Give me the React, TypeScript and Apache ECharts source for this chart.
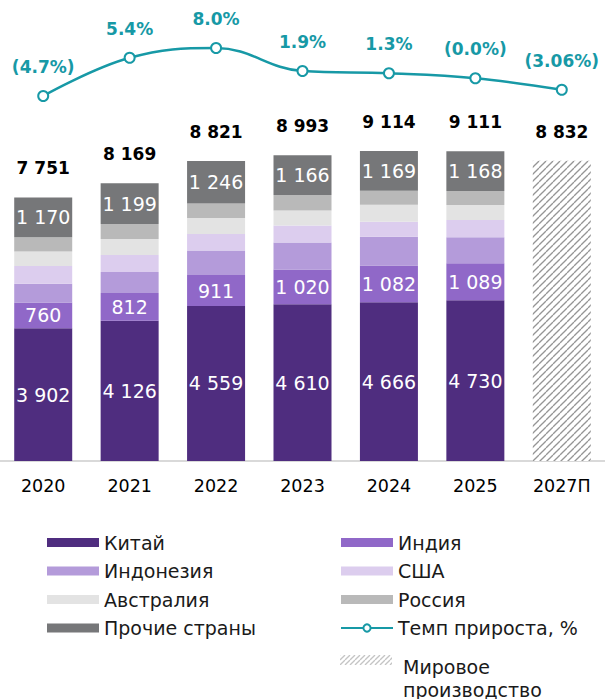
import React, { useEffect, useRef } from "react";
import * as echarts from "echarts";

const years = ["2020", "2021", "2022", "2023", "2024", "2025", "2027П"];
const china = [3902, 4126, 4559, 4610, 4666, 4730, "-"];
const india = [760, 812, 911, 1020, 1082, 1089, "-"];
const indonesia = [550, 620, 720, 800, 847, 760, "-"];
const usa = [520, 500, 490, 500, 440, 510, "-"];
const australia = [430, 470, 470, 440, 500, 444, "-"];
const russia = [419, 442, 425, 457, 410, 410, "-"];
const others = [1170, 1199, 1246, 1166, 1169, 1168, "-"];
const world = ["-", "-", "-", "-", "-", "-", 8832];
const totals = [7751, 8169, 8821, 8993, 9114, 9111, 8832];
const growth = [-4.7, 5.4, 8.0, 1.9, 1.3, 0.0, -3.06];
const growthLabels = ["(4.7%)", "5.4%", "8.0%", "1.9%", "1.3%", "(0.0%)", "(3.06%)"];

const FONT = "DejaVu Sans";
const TEAL = "#1799a6";

const fmt = (v: any) =>
  String(v).replace(/\B(?=(\d{3})+(?!\d))/g, " ");

function makeHatch(size: number, color: string, width: number) {
  const c = document.createElement("canvas");
  c.width = size;
  c.height = size;
  const ctx = c.getContext("2d")!;
  ctx.fillStyle = "#ffffff";
  ctx.fillRect(0, 0, size, size);
  ctx.strokeStyle = color;
  ctx.lineWidth = width;
  for (const x0 of [-size, 0, size]) {
    ctx.beginPath();
    ctx.moveTo(x0, size);
    ctx.lineTo(x0 + size, 0);
    ctx.stroke();
  }
  return c;
}

export default function App() {
  const ref = useRef<HTMLDivElement>(null);
  useEffect(() => {
    if (!ref.current) return;
    const chart = echarts.init(ref.current, undefined, { renderer: "svg" });
    const hatchBar = makeHatch(7, "#959595", 1.3);
    const hatchLegend = makeHatch(5, "#c4c4c4", 1.3);

    const insideLabel = {
      show: true,
      position: "inside",
      color: "#ffffff",
      fontFamily: FONT,
      fontSize: 19,
      formatter: (p: any) => fmt(p.value),
    };
    const barCommon = {
      type: "bar",
      stack: "a",
      barWidth: 58,
      barGap: "-100%",
      xAxisIndex: 0,
      yAxisIndex: 0,
    };
    const legendText = { fontFamily: FONT, fontSize: 19, color: "#1a1a1a", lineHeight: 20 };

    const option: any = {
      animation: false,
      textStyle: { fontFamily: FONT },
      grid: [
        { left: 0, right: -4, top: 121, height: 340 },
        { left: 0, right: -4, top: 40.4, height: 75.6 },
      ],
      xAxis: [
        {
          type: "category",
          data: years,
          gridIndex: 0,
          axisLine: { lineStyle: { color: "#d9d9d9", width: 2 } },
          axisTick: { show: false },
          axisLabel: { color: "#000", fontSize: 17.5, fontFamily: FONT, margin: 16 },
        },
        { type: "category", data: years, gridIndex: 1, show: false },
      ],
      yAxis: [
        { type: "value", gridIndex: 0, min: 0, max: 10000, show: false, splitLine: { show: false } },
        { type: "value", gridIndex: 1, min: -10, max: 10, show: false, splitLine: { show: false } },
      ],
      legend: [
        {
          left: 47,
          top: 532.5,
          padding: 0,
          orient: "vertical",
          itemWidth: 52,
          itemHeight: 9,
          itemGap: 8.5,
          selectedMode: false,
          icon: "rect",
          textStyle: legendText,
          data: ["Китай", "Индонезия", "Австралия", "Прочие страны"],
        },
        {
          left: 340,
          top: 532.5,
          padding: 0,
          orient: "vertical",
          itemWidth: 52,
          itemHeight: 9,
          itemGap: 8.5,
          selectedMode: false,
          textStyle: legendText,
          data: [
            { name: "Индия", icon: "rect" },
            { name: "США", icon: "rect" },
            { name: "Россия", icon: "rect" },
            { name: "Темп прироста, %" },
          ],
        },
      ],
      graphic: [
        {
          type: "rect",
          shape: { x: 340, y: 655, width: 52, height: 10 },
          style: { fill: { image: hatchLegend, repeat: "repeat" } },
        },
        {
          type: "text",
          x: 403,
          y: 655,
          style: {
            text: "Мировое\nпроизводство",
            fontFamily: FONT,
            fontSize: 19,
            lineHeight: 23,
            fill: "#1a1a1a",
            verticalAlign: "top",
          },
        },
      ],
      series: [
        { ...barCommon, name: "Китай", data: china, itemStyle: { color: "#4f2d7f" }, label: insideLabel },
        { ...barCommon, name: "Индия", data: india, itemStyle: { color: "#9068c8" }, label: insideLabel },
        { ...barCommon, name: "Индонезия", data: indonesia, itemStyle: { color: "#b49bda" } },
        { ...barCommon, name: "США", data: usa, itemStyle: { color: "#dccdee" } },
        { ...barCommon, name: "Австралия", data: australia, itemStyle: { color: "#e3e3e3" } },
        { ...barCommon, name: "Россия", data: russia, itemStyle: { color: "#b9b9b9" } },
        { ...barCommon, name: "Прочие страны", data: others, itemStyle: { color: "#767779" }, label: insideLabel },
        {
          ...barCommon,
          name: "Мировое производство",
          data: world,
          itemStyle: { color: { image: hatchBar, repeat: "repeat" } },
        },
        {
          type: "bar",
          name: "Итого",
          data: totals,
          barWidth: 58,
          barGap: "-100%",
          xAxisIndex: 0,
          yAxisIndex: 0,
          z: 1,
          itemStyle: { color: "rgba(0,0,0,0)" },
          label: {
            show: true,
            position: "top",
            distance: 20,
            color: "#000",
            fontFamily: FONT,
            fontWeight: "bold",
            fontSize: 17,
            lineHeight: 18,
            formatter: (p: any) => fmt(p.value),
          },
        },
        {
          type: "line",
          name: "Темп прироста, %",
          xAxisIndex: 1,
          yAxisIndex: 1,
          data: growth,
          smooth: 0.4,
          symbol: "emptyCircle",
          symbolSize: 10,
          lineStyle: { color: TEAL, width: 2.5 },
          itemStyle: { color: TEAL, borderColor: TEAL, borderWidth: 2.5 },
          label: {
            show: true,
            position: "top",
            distance: 14,
            color: TEAL,
            fontFamily: FONT,
            fontWeight: "bold",
            fontSize: 17,
            lineHeight: 18,
            formatter: (p: any) => growthLabels[p.dataIndex],
          },
        },
      ],
    };
    chart.setOption(option);
    return () => chart.dispose();
  }, []);
  return (
    <div
      ref={ref}
      style={{ position: "absolute", left: 0, top: 0, width: 605, height: 699 }}
    />
  );
}
